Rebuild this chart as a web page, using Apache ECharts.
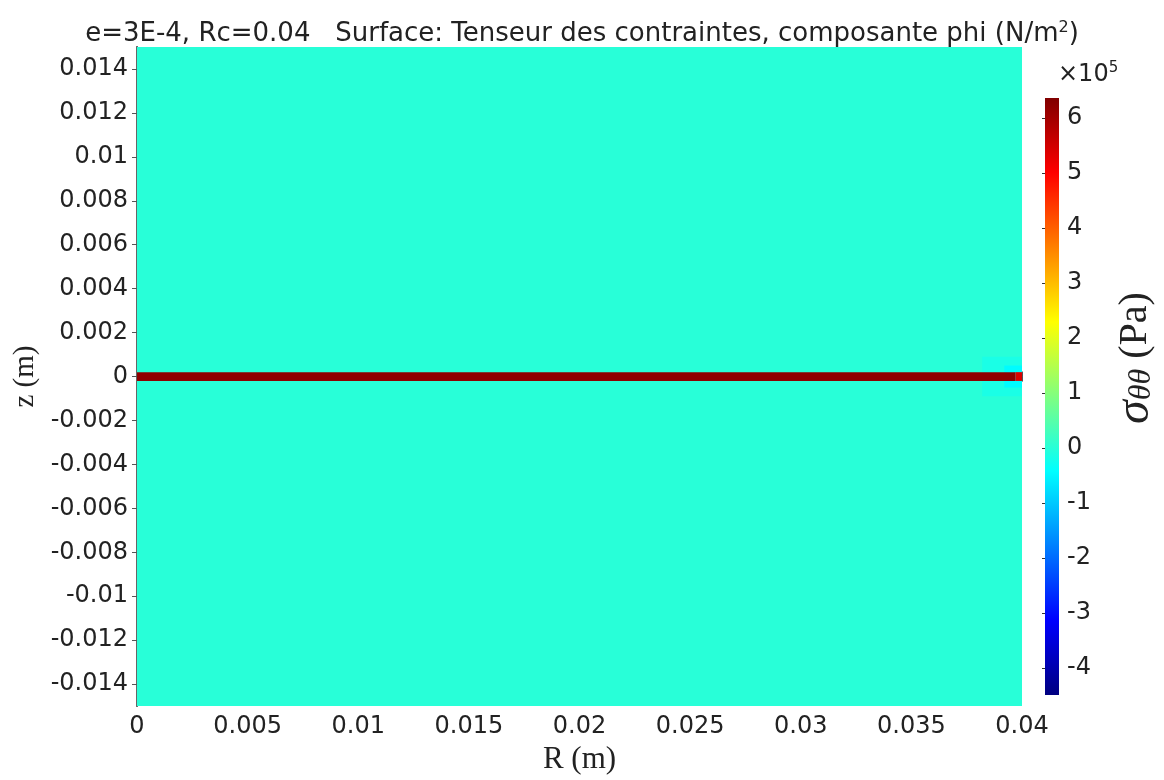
<!DOCTYPE html>
<html>
<head>
<meta charset="utf-8">
<script src="https://cdn.jsdelivr.net/npm/echarts@6/dist/echarts.min.js"></script>
<style>
html, body { margin: 0; padding: 0; background: #fff; }
#main { width: 1164px; height: 780px; }
</style>
</head>
<body>
<div id="main"></div>
<script>
// axes (m)
var rRange = [0, 0.04];
var zRange = [-0.015, 0.015];
var rTicks = [0, 0.005, 0.01, 0.015, 0.02, 0.025, 0.03, 0.035, 0.04];
var zTicks = [-0.014, -0.012, -0.01, -0.008, -0.006, -0.004, -0.002, 0, 0.002, 0.004, 0.006, 0.008, 0.01, 0.012, 0.014];

// colour scale, x1e5 Pa
var cbRange = [-4.49, 6.36];
var cbTicks = [-4, -3, -2, -1, 0, 1, 2, 3, 4, 5, 6];

// cells: [r0, r1, z0, z1, sigma (x1e5 Pa)]
var fieldCells = [[0, 0.04, -0.015, 0.015, 0.0]];
var haloCells = [
    [0.0382, 0.04, -0.0009, 0.0009, -0.15],
    [0.0392, 0.04, -0.0005, 0.0005, -0.45]
];
var stripeCells = [
    [0, 0.0397, -0.0002, 0.0002, 6.2],
    [0.0397, 0.04, -0.0002, 0.0002, 5.4]
];

var jet = ['#000080', '#0000ff', '#0080ff', '#00ffff', '#80ff80', '#ffff00', '#ff8000', '#ff0000', '#800000'];

var chart = echarts.init(document.getElementById('main'));

function renderCell(params, api) {
    var p0 = api.coord([api.value(0), api.value(3)]);
    var p1 = api.coord([api.value(1), api.value(2)]);
    return {
        type: 'rect',
        shape: { x: p0[0], y: p0[1], width: p1[0] - p0[0], height: p1[1] - p0[1] },
        style: { fill: api.visual('color') }
    };
}

// colour bar drawn on its own grid, gradient from the jet map
function renderBar(params, api) {
    var p0 = api.coord([0, cbRange[1]]);
    var p1 = api.coord([1, cbRange[0]]);
    var stops = jet.map(function (c, i) { return { offset: 1 - i / (jet.length - 1), color: c }; }).reverse();
    return {
        type: 'rect',
        shape: { x: p0[0], y: p0[1], width: p1[0] - p0[0], height: p1[1] - p0[1] },
        style: { fill: new echarts.graphic.LinearGradient(0, 0, 0, 1, stops) }
    };
}

var font = 'DejaVu Sans';
var serif = 'Liberation Serif';
var lineStyle = { color: '#666', width: 2 };
var tickStyle = { color: '#555', width: 1 };

var option = {
    animation: false,
    backgroundColor: '#fff',
    title: {
        text: 'e=3E-4, Rc=0.04   Surface: Tenseur des contraintes, composante phi (N/m{sup|2})',
        left: 'center',
        top: 15,
        textStyle: {
            fontFamily: font,
            fontSize: 26,
            fontWeight: 'normal',
            color: '#222',
            rich: {
                sup: { fontFamily: font, fontSize: 16, color: '#222', padding: [0, 0, 12, 0] }
            }
        }
    },
    grid: [
        { left: 137, top: 47, width: 885, height: 660 },
        { left: 1045, top: 98, width: 14, height: 597 }
    ],
    visualMap: {
        type: 'continuous',
        show: false,
        seriesIndex: [0, 1, 2],
        dimension: 4,
        min: cbRange[0],
        max: cbRange[1],
        inRange: { color: jet }
    },
    xAxis: [
        {
            type: 'value', gridIndex: 0, min: rRange[0], max: rRange[1], position: 'bottom',
            name: 'R (m)', nameLocation: 'middle', nameGap: 36,
            nameTextStyle: { fontFamily: serif, fontSize: 31, color: '#222' },
            axisLine: { show: true, lineStyle: lineStyle },
            axisTick: { show: true, inside: true, length: 5, customValues: rTicks, lineStyle: tickStyle },
            axisLabel: { customValues: rTicks, fontFamily: font, fontSize: 24, color: '#222', margin: 9 },
            splitLine: { show: false }
        },
        {
            type: 'value', gridIndex: 0, min: rRange[0], max: rRange[1], position: 'top',
            axisLine: { show: true, lineStyle: lineStyle },
            axisTick: { show: true, inside: true, length: 5, customValues: rTicks, lineStyle: tickStyle },
            axisLabel: { show: false },
            splitLine: { show: false }
        },
        {
            type: 'value', gridIndex: 1, min: 0, max: 1, show: false
        }
    ],
    yAxis: [
        {
            type: 'value', gridIndex: 0, min: zRange[0], max: zRange[1], position: 'left',
            name: 'z (m)', nameLocation: 'middle', nameGap: 97,
            nameTextStyle: { fontFamily: serif, fontSize: 29, color: '#222' },
            axisLine: { show: true, lineStyle: lineStyle },
            axisTick: { show: true, inside: true, length: 5, customValues: zTicks, lineStyle: tickStyle },
            axisLabel: { customValues: zTicks, fontFamily: font, fontSize: 24, color: '#222', margin: 9 },
            splitLine: { show: false }
        },
        {
            type: 'value', gridIndex: 0, min: zRange[0], max: zRange[1], position: 'right',
            axisLine: { show: true, lineStyle: lineStyle },
            axisTick: { show: true, inside: true, length: 5, customValues: zTicks, lineStyle: tickStyle },
            axisLabel: { show: false },
            splitLine: { show: false }
        },
        {
            type: 'value', gridIndex: 1, min: cbRange[0], max: cbRange[1], position: 'right',
            axisLine: { show: false },
            axisTick: { show: true, inside: true, length: 3, customValues: cbTicks, lineStyle: { color: '#333', width: 1 } },
            axisLabel: { customValues: cbTicks, fontFamily: font, fontSize: 24, color: '#222', margin: 8 },
            splitLine: { show: false }
        }
    ],
    graphic: [
        {
            type: 'text',
            x: 1058,
            y: 75,
            style: {
                text: '×10{sup|5}',
                align: 'left',
                verticalAlign: 'middle',
                fontFamily: font,
                fontSize: 24,
                fill: '#222',
                rich: { sup: { fontFamily: font, fontSize: 15, fill: '#222', padding: [0, 0, 14, 0] } }
            }
        },
        {
            type: 'text',
            x: 1135,
            y: 358,
            rotation: Math.PI / 2,
            style: {
                text: '{s|σ}{sub|θθ} (Pa)',
                align: 'center',
                verticalAlign: 'middle',
                fontFamily: serif,
                fontSize: 40,
                fill: '#222',
                rich: {
                    s: { fontFamily: serif, fontStyle: 'italic', fontSize: 48, fill: '#222' },
                    sub: { fontFamily: serif, fontStyle: 'italic', fontSize: 32, fill: '#222', padding: [14, 0, 0, 0] }
                }
            }
        }
    ],
    series: [
        { type: 'custom', xAxisIndex: 0, yAxisIndex: 0, data: fieldCells, renderItem: renderCell, encode: { x: [0, 1], y: [2, 3] }, clip: true, silent: true },
        { type: 'custom', xAxisIndex: 0, yAxisIndex: 0, data: haloCells, renderItem: renderCell, encode: { x: [0, 1], y: [2, 3] }, clip: true, silent: true },
        { type: 'custom', xAxisIndex: 0, yAxisIndex: 0, data: stripeCells, renderItem: renderCell, encode: { x: [0, 1], y: [2, 3] }, clip: true, silent: true },
        { type: 'custom', xAxisIndex: 2, yAxisIndex: 2, data: [cbRange], renderItem: renderBar, clip: false, silent: true }
    ]
};

chart.setOption(option);
</script>
</body>
</html>
